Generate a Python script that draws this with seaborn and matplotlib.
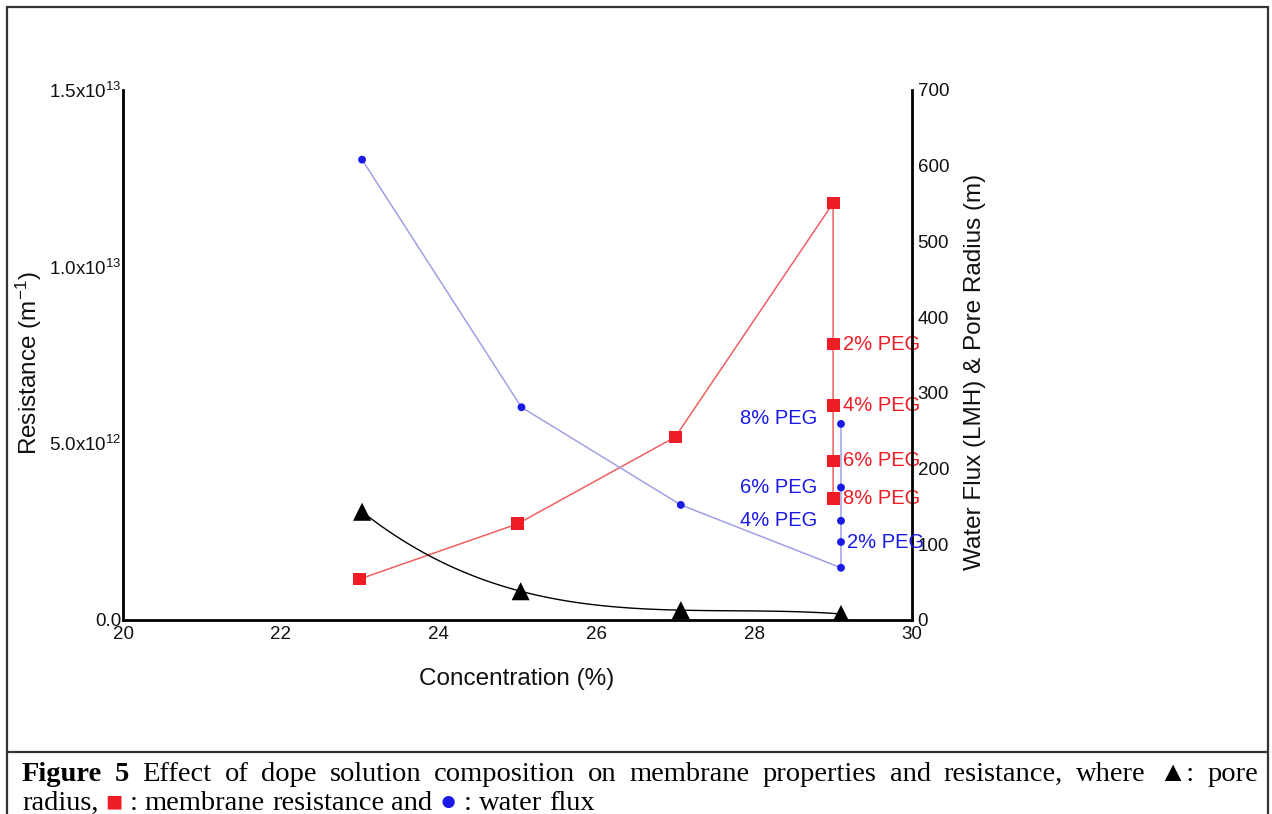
import numpy as np
import pandas as pd
import matplotlib
matplotlib.use("Agg")
import matplotlib.pyplot as plt
from matplotlib.lines import Line2D
import seaborn as sns

# ---------------- data ----------------
# membrane resistance (left axis, m^-1) vs concentration, then PEG series at 29 %
res_conc = [23, 25, 27, 29]
res_vals = [1.16e12, 2.72e12, 5.18e12, 11.8e12]
res_peg_labels = ["2% PEG", "4% PEG", "6% PEG", "8% PEG"]
res_peg_conc = [29, 29, 29, 29]
res_peg_vals = [7.81e12, 6.06e12, 4.50e12, 3.45e12]

# water flux (right axis, LMH)
flux_conc = [23.03, 25.05, 27.07, 29.1]
flux_vals = [608, 281, 152, 69]
flux_peg_labels = ["2% PEG", "4% PEG", "6% PEG", "8% PEG"]
flux_peg_conc = [29.1, 29.1, 29.1, 29.1]
flux_peg_vals = [103, 131, 175, 259]

# pore radius (right axis)
pore_conc = [23.03, 25.04, 27.07, 29.1]
pore_vals = [143, 38, 13, 8]

left_ticks = [0, 5e12, 1e13, 1.5e13]
left_ticklabels = ["0.0", "5.0x10$^{12}$", "1.0x10$^{13}$", "1.5x10$^{13}$"]
x_ticks = [20, 22, 24, 26, 28, 30]
right_ticks = [0, 100, 200, 300, 400, 500, 600, 700]

caption_line1 = ("Effect of dope solution composition on membrane properties "
                 "and resistance, where \u25B2: pore")

# ---------------- style ----------------
sns.set_theme(style="white")
plt.rcParams["font.family"] = ["Liberation Sans", "DejaVu Sans"]
plt.rcParams["mathtext.fontset"] = "custom"
plt.rcParams["mathtext.rm"] = "Liberation Sans"
plt.rcParams["mathtext.it"] = "Liberation Sans"

RED = "#ee1c24"
RED_LINE = "#f06060"
BLUE = "#1a1ae6"
BLUE_LINE = "#a0a0e6"

W, H = 1272, 814
fig = plt.figure(figsize=(W / 100, H / 100), dpi=100)
fig.patch.set_facecolor("white")
ax = fig.add_axes([123 / W, 1 - 620 / H, (912 - 123) / W, (620 - 90) / H])
ax2 = ax.twinx()

# red: resistance, main line plus PEG branch
red_df = pd.DataFrame({"x": res_conc + res_peg_conc, "y": res_vals + res_peg_vals})
sns.lineplot(data=red_df, x="x", y="y", sort=False, estimator=None, ax=ax,
             color=RED_LINE, lw=1.1, zorder=3)
sns.scatterplot(data=red_df, x="x", y="y", ax=ax, color=RED, marker="s", s=85,
                edgecolor="none", zorder=4)

# blue: water flux
blue_df = pd.DataFrame({"x": flux_conc + flux_peg_conc, "y": flux_vals + flux_peg_vals})
sns.lineplot(data=blue_df, x="x", y="y", sort=False, estimator=None, ax=ax2,
             color=BLUE_LINE, lw=1.1, zorder=3)
sns.scatterplot(data=blue_df, x="x", y="y", ax=ax2, color=BLUE, marker="o", s=32,
                edgecolor="none", zorder=4)

# black: pore radius (smooth curve)
pore_df = pd.DataFrame({"x": pore_conc, "y": pore_vals})
sns.regplot(data=pore_df, x="x", y="y", order=3, ci=None, scatter=False, truncate=True,
            ax=ax2, line_kws=dict(color="black", lw=1.0))
sns.scatterplot(data=pore_df, x="x", y="y", ax=ax2, color="black", marker="^", s=170,
                edgecolor="none", zorder=5)

# labels for PEG points
lab_fs = 14.5
for lab, xv, yv in zip(res_peg_labels, res_peg_conc, res_peg_vals):
    ax.annotate(lab, (xv, yv), xytext=(7, 0), textcoords="offset points",
                ha="left", va="center", color=RED, fontsize=lab_fs, zorder=6)
for lab, xv, yv in zip(flux_peg_labels, flux_peg_conc, flux_peg_vals):
    if lab == "2% PEG":
        ax2.annotate(lab, (xv, yv), xytext=(4, 0), textcoords="offset points",
                     ha="left", va="center", color=BLUE, fontsize=lab_fs, zorder=6)
    else:
        ax2.annotate(lab, (xv, yv), xytext=(-17, 4 if lab == "8% PEG" else 0),
                     textcoords="offset points",
                     ha="right", va="center", color=BLUE, fontsize=lab_fs, zorder=6)

# axes formatting
ax.set_xlim(20, 30)
ax.set_ylim(0, 1.5e13)
ax2.set_ylim(0, 700)
ax.set_xticks(x_ticks)
ax.set_xticklabels([str(t) for t in x_ticks])
ax.set_yticks(left_ticks)
ax.set_yticklabels(left_ticklabels)
ax2.set_yticks(right_ticks)
ax2.set_yticklabels([str(t) for t in right_ticks])

for a in (ax, ax2):
    a.tick_params(length=0, labelsize=13.5, colors="#111111")
    a.set_facecolor("none")
    a.grid(False)
    for s in a.spines.values():
        s.set_color("black")
        s.set_linewidth(2)
    a.spines["top"].set_visible(False)
ax.tick_params(axis="y", pad=1)
ax.tick_params(axis="x", pad=4)
ax2.tick_params(axis="y", pad=4)
ax.spines["right"].set_visible(False)
ax2.spines["left"].set_visible(False)
ax2.spines["bottom"].set_visible(False)

ax.set_xlabel("Concentration (%)", fontsize=17.5, color="#111111")
ax.set_ylabel("Resistance (m$^{-1}$)", fontsize=17.5, color="#111111")
ax2.set_ylabel("Water Flux (LMH) & Pore Radius (m)", fontsize=17.5, color="#111111")
ax.xaxis.set_label_coords(0.4994, -0.09)
ax.yaxis.set_label_coords(-0.100, 0.485)
ax2.yaxis.set_label_coords(1.066, 0.468)

# ---------------- frame ----------------
fc = "#333333"
def hline(y, x0, x1):
    fig.add_artist(Line2D([x0 / W, x1 / W], [1 - y / H, 1 - y / H], color=fc, lw=1.6))
def vline(x, y0, y1):
    fig.add_artist(Line2D([x / W, x / W], [1 - y0 / H, 1 - y1 / H], color=fc, lw=1.6))
hline(7, 7, 1268)
hline(752, 7, 1268)
vline(7, 7, 814)
vline(1268, 7, 814)

# ---------------- caption ----------------
fig.canvas.draw()
r = fig.canvas.get_renderer()
cap_fs = 20.5
serif = ["Liberation Serif", "DejaVu Serif"]

def width_of(s, **kw):
    t = fig.text(0, 0, s, fontsize=cap_fs, family=serif, **kw)
    w = t.get_window_extent(r).width
    t.remove()
    return w

# line 1, justified between x=22 and x=1258
words = [("Figure", "bold"), ("5", "bold")] + [(w, "normal") for w in caption_line1.split()]
widths = [width_of(w, fontweight=fw) for w, fw in words]
left_px, right_px = 22, 1258
gap = (right_px - left_px - sum(widths)) / (len(words) - 1)
x = left_px
y1 = 1 - 781 / H
for (w, fw), wd in zip(words, widths):
    fig.text(x / W, y1, w, fontsize=cap_fs, family=serif, fontweight=fw,
             va="baseline", ha="left", color="black")
    x += wd + gap

# line 2
space = width_of("a a") - width_of("aa")
pieces = [("radius,", "black"), ("\u25A0", RED), (":", "black"), ("membrane", "black"),
          ("resistance", "black"), ("and", "black"), ("\u25CF", BLUE), (":", "black"),
          ("water", "black"), ("flux", "black")]
x = left_px
y2 = 1 - 810 / H
for w, col in pieces:
    fig.text(x / W, y2, w, fontsize=cap_fs, family=serif, va="baseline", ha="left",
             color=col)
    x += width_of(w) + space

fig.savefig("out.png", dpi=100, facecolor="white")
